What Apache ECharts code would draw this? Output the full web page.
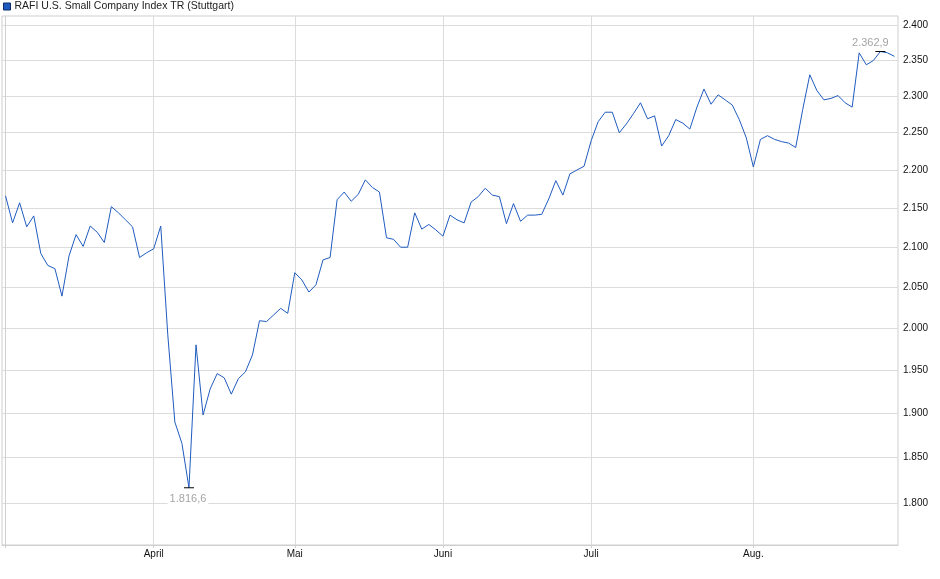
<!DOCTYPE html>
<html>
<head>
<meta charset="utf-8">
<script src="https://cdn.jsdelivr.net/npm/echarts@6/dist/echarts.min.js"></script>
<style>
  html, body { margin: 0; padding: 0; background: #fff; }
  #container { width: 940px; height: 579px; }
</style>
</head>
<body>
<div id="container"></div>
<script>
const seriesName = 'RAFI U.S. Small Company Index TR (Stuttgart)';

// daily closes, trading days 03.03. - 29.08.
const values = [
  2166, 2131, 2157, 2126, 2140, 2092, 2077, 2073, 2039, 2089,
  2116, 2101, 2127, 2119, 2106, 2152, 2144, 2135, 2126, 2087,
  2093, 2098, 2127, 1992, 1890, 1866, 1816.6, 1980, 1898, 1928,
  1946, 1941, 1922, 1940, 1948, 1968, 2009, 2008, 2016, 2024,
  2018, 2068, 2059, 2044, 2053, 2084, 2087, 2161, 2171, 2159,
  2168, 2187, 2177, 2171, 2112, 2110, 2100, 2100, 2144, 2123,
  2129, 2122, 2114, 2141, 2135, 2131, 2158, 2165, 2176, 2167,
  2165, 2130, 2156, 2133, 2141, 2141, 2142, 2162, 2186, 2167,
  2195, 2200, 2205, 2239, 2265, 2278, 2278, 2250, 2262, 2276,
  2291, 2269, 2273, 2232, 2246, 2268, 2263, 2255, 2285, 2310,
  2289, 2302, 2295, 2288, 2268, 2243, 2204, 2241, 2246, 2241,
  2238, 2236, 2230, 2282, 2330, 2308, 2295, 2297, 2301, 2291,
  2285, 2361, 2344, 2350, 2362.9, 2361, 2356,
];

// index of first trading day of each month
const monthIdx = [0, 21, 41, 62, 83, 106];
const monthLabels = ['März', 'April', 'Mai', 'Juni', 'Juli', 'Aug.'];

const yTicks = [1800, 1850, 1900, 1950, 2000, 2050, 2100, 2150, 2200, 2250, 2300, 2350, 2400];

function fmtDe(v, dec) {
  const parts = v.toFixed(dec).split('.');
  const int = parts[0].replace(/\B(?=(\d{3})+(?!\d))/g, '.');
  return parts[1] ? int + ',' + parts[1] : int;
}

const dom = document.getElementById('container');
const myChart = echarts.init(dom);
const font = 'Liberation Sans, Arial, sans-serif';

const option = {
  animation: false,
  textStyle: { fontFamily: font },
  legend: {
    left: 3,
    top: 1,
    padding: 0,
    icon: 'rect',
    itemWidth: 7,
    itemHeight: 7,
    itemGap: 4,
    itemStyle: { borderColor: '#0d2a66', borderWidth: 1 },
    textStyle: { fontSize: 10.5, color: '#222', fontFamily: font, padding: [0, 0, 0, -1] },
    data: [seriesName],
  },
  grid: {
    left: 2,
    right: 42,
    top: 16,
    bottom: 34,
    show: true,
    borderColor: '#cfcfcf',
    borderWidth: 1,
  },
  xAxis: {
    type: 'value',
    min: -0.5,
    max: values.length - 0.5,
    axisLine: { show: true, lineStyle: { color: '#cfcfcf' } },
    axisTick: { show: true, length: 3, lineStyle: { color: '#cfcfcf' }, customValues: monthIdx },
    splitLine: { show: true, lineStyle: { color: '#dcdcdc', width: 1 } },
    axisLabel: {
      customValues: monthIdx.slice(1),
      formatter: (v) => monthLabels[monthIdx.indexOf(Math.round(v))] || '',
      color: '#111',
      fontSize: 10,
      margin: 4,
      fontFamily: font,
    },
  },
  yAxis: {
    type: 'log',
    position: 'right',
    min: 1755,
    max: 2414,
    axisLine: { show: true, lineStyle: { color: '#cfcfcf' } },
    axisTick: { show: false, customValues: yTicks },
    splitLine: { show: true, lineStyle: { color: '#dcdcdc', width: 1 } },
    axisLabel: {
      customValues: yTicks,
      formatter: (v) => fmtDe(v, 0),
      color: '#111',
      fontSize: 10,
      margin: 5,
      fontFamily: font,
    },
  },
  series: [
    {
      name: seriesName,
      type: 'line',
      data: values.map((v, i) => [i, v]),
      showSymbol: false,
      symbol: 'none',
      lineStyle: { color: '#1f5bbf', width: 1 },
      itemStyle: { color: '#1f5bbf' },
      markPoint: {
        symbol: 'rect',
        symbolSize: [10, 1],
        itemStyle: { color: '#000' },
        label: {
          formatter: (p) => fmtDe(p.value, 1),
          color: '#a5a5a5',
          fontSize: 11,
          fontFamily: font,
        },
        data: [
          { type: 'max', label: { position: 'top', distance: 3, offset: [-10, 0] } },
          {
            type: 'min',
            label: {
              position: 'bottom', distance: 5, offset: [-1, 0],
              backgroundColor: '#fff', padding: [0, 2],
            },
          },
        ],
      },
    },
  ],
};

myChart.setOption(option, true);
</script>
</body>
</html>
